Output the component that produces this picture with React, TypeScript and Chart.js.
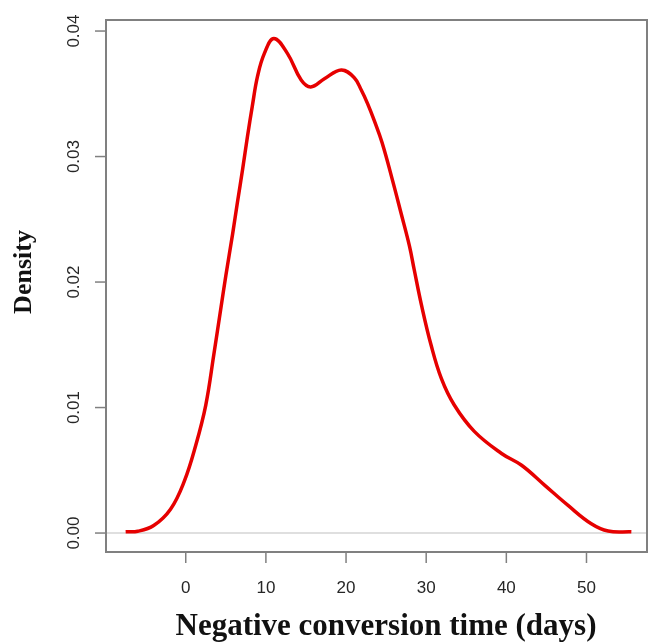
import React, { useEffect, useRef } from "react";
import { Chart, registerables } from "chart.js";

Chart.register(...registerables);

const xValues = [
  -7.5, -6.0, -4.0, -1.9, -0.2, 1.25, 2.5, 3.5, 4.4, 5.0, 5.84, 6.46, 7.1, 7.7, 8.3, 8.96, 9.8,
  11.0, 12.7, 14.4, 15.6, 17.3, 19.4, 21.0, 21.9, 22.7, 23.5, 24.5, 25.8, 26.9, 27.9, 28.5,
  29.4, 30.6, 31.9, 33.5, 36.0, 39.4, 41.9, 44.8, 47.7, 50.6, 52.7, 55.6,
];
const densityValues = [
  0.0001, 0.00014, 0.0006, 0.0019, 0.0041, 0.007, 0.0102, 0.0142, 0.018, 0.0205, 0.0238,
  0.0264, 0.029, 0.0316, 0.034, 0.0364, 0.0382, 0.0394, 0.0382, 0.0361, 0.03555, 0.0362,
  0.0369, 0.0363, 0.0353, 0.0342, 0.0329, 0.0311, 0.0281, 0.0254, 0.0229, 0.021, 0.0182,
  0.015, 0.0123, 0.0102, 0.0081, 0.00634, 0.0054, 0.0038, 0.0022, 0.00074, 0.00016, 0.0001,
];
const xTicks = [0, 10, 20, 30, 40, 50];
const yTicks = [0, 0.01, 0.02, 0.03, 0.04];
const yTickLabels = ["0.00", "0.01", "0.02", "0.03", "0.04"];
const xTitle = "Negative conversion time (days)";
const yTitle = "Density";

const axesPlugin = {
  id: "rAxes",
  beforeDatasetsDraw(chart: any) {
    const { ctx, chartArea, scales } = chart;
    const y0 = scales.y.getPixelForValue(0);
    ctx.save();
    ctx.strokeStyle = "#d4d4d4";
    ctx.lineWidth = 1.5;
    ctx.beginPath();
    ctx.moveTo(chartArea.left, y0);
    ctx.lineTo(chartArea.right, y0);
    ctx.stroke();
    ctx.restore();
  },
  afterDraw(chart: any) {
    const { ctx, chartArea, scales } = chart;
    const xs = scales.x;
    const ys = scales.y;
    ctx.save();
    ctx.strokeStyle = "#808080";
    ctx.lineWidth = 2;
    ctx.strokeRect(chartArea.left, chartArea.top, chartArea.right - chartArea.left, chartArea.bottom - chartArea.top);
    ctx.lineWidth = 1.5;
    ctx.fillStyle = "#262626";
    ctx.font = "17px 'Liberation Sans', Arial, sans-serif";
    ctx.textAlign = "center";
    ctx.textBaseline = "middle";
    xTicks.forEach((v) => {
      const px = xs.getPixelForValue(v);
      ctx.beginPath();
      ctx.moveTo(px, chartArea.bottom);
      ctx.lineTo(px, chartArea.bottom + 11);
      ctx.stroke();
      ctx.fillText(String(v), px, chartArea.bottom + 36);
    });
    yTicks.forEach((v, i) => {
      const py = ys.getPixelForValue(v);
      ctx.beginPath();
      ctx.moveTo(chartArea.left, py);
      ctx.lineTo(chartArea.left - 11, py);
      ctx.stroke();
      ctx.save();
      ctx.translate(chartArea.left - 32, py);
      ctx.rotate(-Math.PI / 2);
      ctx.fillText(yTickLabels[i], 0, 0);
      ctx.restore();
    });
    ctx.fillStyle = "#111111";
    ctx.font = "bold 31px 'Liberation Serif', 'Times New Roman', serif";
    ctx.fillText(xTitle, 386, chartArea.bottom + 75);
    ctx.save();
    ctx.translate(24, 272);
    ctx.rotate(-Math.PI / 2);
    ctx.font = "bold 26px 'Liberation Serif', 'Times New Roman', serif";
    ctx.fillText(yTitle, 0, 0);
    ctx.restore();
    ctx.restore();
  },
};

export default function App() {
  const ref = useRef<HTMLCanvasElement | null>(null);
  useEffect(() => {
    if (!ref.current) return;
    const chart = new Chart(ref.current, {
      type: "line",
      data: {
        datasets: [
          {
            data: xValues.map((x, i) => ({ x, y: densityValues[i] })),
            borderColor: "#e60000",
            borderWidth: 3.5,
            pointRadius: 0,
            fill: false,
            tension: 0.4,
          },
        ],
      },
      options: {
        animation: false,
        responsive: false,
        events: [],
        layout: { padding: { left: 106, right: 1, top: 20, bottom: 92 } },
        plugins: { legend: { display: false }, tooltip: { enabled: false } },
        scales: {
          x: { type: "linear", display: false, min: -9.95, max: 57.55 },
          y: { type: "linear", display: false, min: -0.00151, max: 0.04088 },
        },
      },
      plugins: [axesPlugin],
    });
    return () => chart.destroy();
  }, []);
  return (
    <div style={{ position: "absolute", left: 0, top: 0, width: 648, height: 644, background: "#fff" }}>
      <canvas ref={ref} width={648} height={644} style={{ width: 648, height: 644 }} />
    </div>
  );
}
